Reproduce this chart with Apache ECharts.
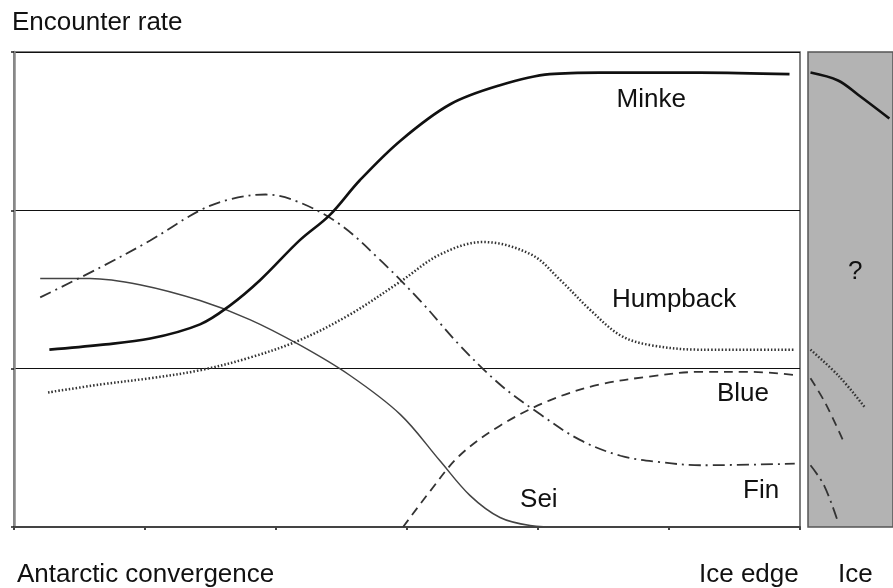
<!DOCTYPE html>
<html><head><meta charset="utf-8">
<script src="https://cdn.jsdelivr.net/npm/echarts@6/dist/echarts.min.js"></script>
<style>html,body{margin:0;padding:0;background:#fff}#c{width:893px;height:588px}</style>
</head><body><div id="c"></div>
<script>
// Main zone (Antarctic convergence -> Ice edge), x 0..6, y 0..3
const minke = [[0.27,1.12],[0.66,1.15],[1.04,1.19],[1.42,1.28],[1.65,1.40],[1.88,1.56],[2.18,1.81],[2.41,1.97],[2.64,2.19],[2.95,2.44],[3.33,2.67],[3.71,2.79],[4.09,2.86],[4.47,2.87],[4.85,2.87],[5.24,2.87],[5.92,2.86]];
const fin = [[0.2,1.45],[0.66,1.64],[1.04,1.81],[1.42,2.0],[1.65,2.07],[1.92,2.10],[2.18,2.05],[2.49,1.91],[2.79,1.69],[3.10,1.43],[3.40,1.15],[3.71,0.90],[4.02,0.71],[4.32,0.55],[4.63,0.45],[4.93,0.41],[5.24,0.39],[5.96,0.40]];
const humpback = [[0.26,0.85],[0.66,0.90],[1.04,0.94],[1.42,0.99],[1.80,1.07],[2.18,1.18],[2.56,1.34],[2.95,1.55],[3.25,1.72],[3.58,1.80],[3.95,1.72],[4.17,1.56],[4.40,1.37],[4.63,1.21],[4.85,1.15],[5.24,1.12],[5.96,1.12]];
const blue = [[2.97,0.0],[3.18,0.23],[3.40,0.45],[3.71,0.64],[4.09,0.80],[4.47,0.90],[4.85,0.95],[5.24,0.98],[5.62,0.98],[5.96,0.96]];
const sei = [[0.2,1.57],[0.58,1.57],[0.96,1.53],[1.42,1.43],[1.80,1.31],[2.18,1.15],[2.56,0.96],[2.95,0.71],[3.25,0.42],[3.48,0.20],[3.71,0.06],[3.94,0.01],[4.18,0.0]];
// Ice zone, x 0..~0.68
const minkeIce = [[0.02,2.87],[0.24,2.82],[0.40,2.73],[0.65,2.58]];
const humpbackIce = [[0.02,1.12],[0.25,0.95],[0.45,0.76]];
const blueIce = [[0.02,0.94],[0.14,0.78],[0.29,0.53]];
const finIce = [[0.02,0.39],[0.13,0.26],[0.24,0.03]];
const speciesLabels = [["Minke",4.60,2.697],["Humpback",4.565,1.434],["Blue",5.366,0.84],["Fin",5.565,0.227],["Sei",3.863,0.17]];

const chart = echarts.init(document.getElementById('c'));
const ink = '#111';
const FS = 26;
const FF = 'Liberation Sans, Arial, sans-serif';
const styles = {
  minke: {color:'#111', width:2.6, type:'solid'},
  fin: {color:'#333', width:1.8, type:[12,5,2,5]},
  humpback: {color:'#333', width:2.5, type:[1.5,2]},
  blue: {color:'#333', width:1.8, type:[9,6]},
  sei: {color:'#444', width:1.5, type:'solid'}
};
function s(name, data, key, xi) {
  return {type:'line', name, data, xAxisIndex:xi, yAxisIndex:xi, smooth:0.35, symbol:'none',
    lineStyle: Object.assign({}, styles[key]), silent:true, z:3};
}
chart.setOption({
  animation:false,
  grid:[
    {left:14, right:93, top:52, bottom:61, show:true, borderColor:'#555', borderWidth:1.5, backgroundColor:'#fff'},
    {left:808, right:-4, top:52, bottom:61, show:true, borderColor:'#555', borderWidth:1.5, backgroundColor:'#b3b3b3'}
  ],
  xAxis:[
    {type:'value', gridIndex:0, min:0, max:6, interval:1,
     axisLine:{show:true, lineStyle:{color:'#444', width:2}},
     axisTick:{show:true, inside:false, length:3, lineStyle:{color:'#444', width:2}},
     axisLabel:{show:false}, splitLine:{show:false}},
    {type:'value', gridIndex:1, min:0, max:0.679,
     axisLine:{show:false}, axisTick:{show:false}, axisLabel:{show:false}, splitLine:{show:false}}
  ],
  yAxis:[
    {type:'value', gridIndex:0, min:0, max:3, interval:1,
     axisLine:{show:true, lineStyle:{color:'#888', width:2.5}},
     axisTick:{show:true, inside:false, length:3, lineStyle:{color:'#222', width:1.5}},
     axisLabel:{show:false},
     splitLine:{show:true, lineStyle:{color:'#111', width:1.2}}},
    {type:'value', gridIndex:1, min:0, max:3,
     axisLine:{show:false}, axisTick:{show:false}, axisLabel:{show:false}, splitLine:{show:false}}
  ],
  series:[
    s('Sei', sei, 'sei', 0),
    s('Blue', blue, 'blue', 0),
    s('Humpback', humpback, 'humpback', 0),
    s('Fin', fin, 'fin', 0),
    s('Minke', minke, 'minke', 0),
    s('Minke ice', minkeIce, 'minke', 1),
    s('Humpback ice', humpbackIce, 'humpback', 1),
    s('Blue ice', blueIce, 'blue', 1),
    s('Fin ice', finIce, 'fin', 1),
    {type:'scatter', xAxisIndex:0, yAxisIndex:0, symbolSize:0, silent:true, itemStyle:{color:ink, opacity:1},
     data: speciesLabels.map(d => ({value:[d[1], d[2]], name:d[0]})),
     label:{show:true, position:'right', distance:0, formatter: p => p.name, color:ink, opacity:1, fontSize:FS, fontFamily:FF}}
  ],
  graphic:[
    {type:'text', left:12, top:10, style:{text:'Encounter rate', fill:ink, font:FS+'px '+FF}},
    {type:'text', left:17, top:562, style:{text:'Antarctic convergence', fill:ink, font:FS+'px '+FF}},
    {type:'text', left:699, top:562, style:{text:'Ice edge', fill:ink, font:FS+'px '+FF}},
    {type:'text', left:838, top:562, style:{text:'Ice', fill:ink, font:FS+'px '+FF}},
    {type:'text', left:848, top:259, style:{text:'?', fill:ink, font:FS+'px '+FF}}
  ]
});
</script></body></html>
